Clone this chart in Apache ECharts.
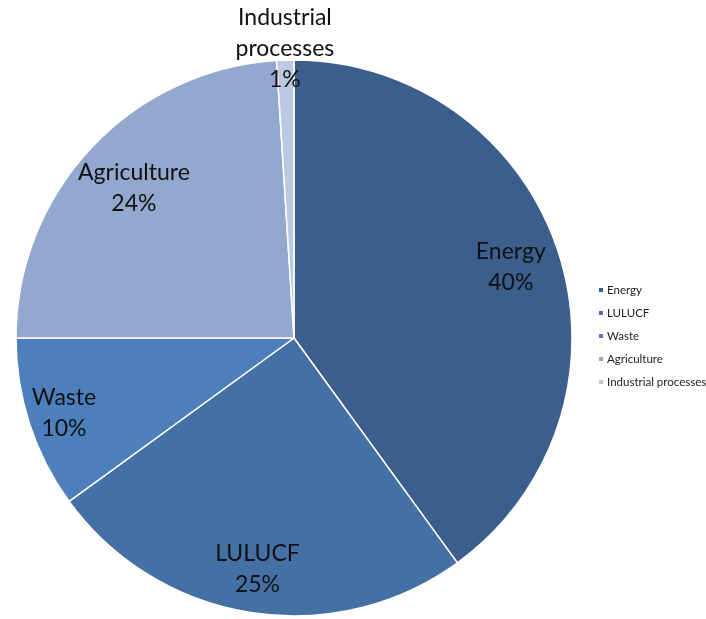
<!DOCTYPE html>
<html><head><meta charset="utf-8">
<script src="https://cdn.jsdelivr.net/npm/echarts@6/dist/echarts.min.js"></script>
<style>html,body{margin:0;padding:0;background:#fff}#c{width:706px;height:619px}</style>
</head><body><div id="c"></div>
<script>
const categories = ['Energy', 'LULUCF', 'Waste', 'Agriculture', 'Industrial processes'];
const values = [40, 25, 10, 24, 1];
const colors = ['#3B5E8C', '#4470A5', '#4D7FBC', '#93A8CF', '#BCC9E2'];
// label distance from centre as fraction of radius
const labelDist = [0.82, 0.84, 0.87, 0.79, 1.04];

const cx = 294, cy = 338, R = 278;
const total = values.reduce((a, b) => a + b, 0);
const chart = echarts.init(document.getElementById('c'));
chart.setOption({
  animation: false,
  legend: {
    orient: 'vertical', left: 592, top: 278,
    itemWidth: 6, itemHeight: 6, itemGap: 9,
    icon: 'rect',
    textStyle: { fontFamily: 'Lato', fontSize: 11.5, color: '#222', lineHeight: 14, padding: [0, 0, 0, -2] },
    data: categories
  },
  series: [{
    type: 'pie',
    center: [cx, cy], radius: [0, R],
    startAngle: 90, clockwise: true,
    data: categories.map((n, i) => ({ name: n, value: values[i], itemStyle: { color: colors[i] } })),
    itemStyle: { borderColor: '#fff', borderWidth: 1.5 },
    label: {
      show: true, position: 'inside',
      formatter: p => p.name.replace(' ', '\n') + '\n' + Math.round(p.percent) + '%',
      fontFamily: 'Lato', fontSize: 23, color: '#111', lineHeight: 31, align: 'center'
    },
    labelLayout: function (p) {
      const i = p.dataIndex;
      let cum = 0;
      for (let k = 0; k < i; k++) cum += values[k];
      const mid = (cum + values[i] / 2) / total * 2 * Math.PI;
      const d = R * labelDist[i];
      return { x: cx + d * Math.sin(mid), y: cy - d * Math.cos(mid), align: 'center', verticalAlign: 'middle' };
    },
    emphasis: { disabled: true }
  }]
});
</script></body></html>
